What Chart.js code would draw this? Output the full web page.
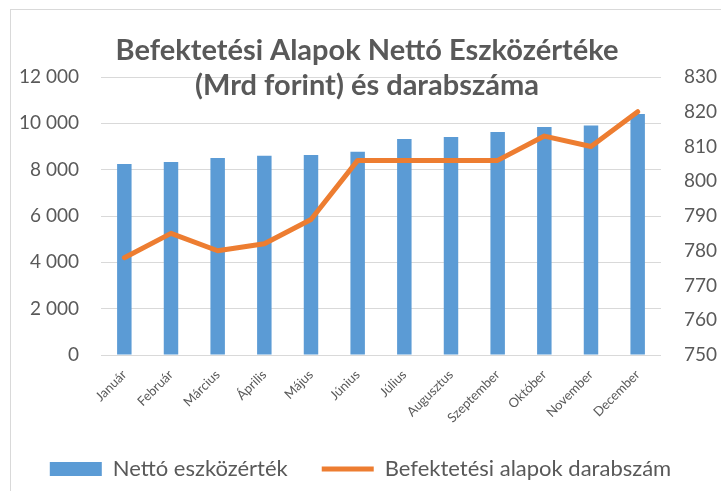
<!DOCTYPE html>
<html>
<head>
<meta charset="utf-8">
<script src="https://cdn.jsdelivr.net/npm/chart.js@4"></script>
<style>
  html, body { margin: 0; padding: 0; background: #fff; }
  #wrap { width: 721px; height: 491px; position: relative; }
</style>
</head>
<body>
<div id="wrap"><canvas id="alapokChart"></canvas></div>
<script>
// Adatok
const honapok = ['Január', 'Február', 'Március', 'Április', 'Május', 'Június',
    'Július', 'Augusztus', 'Szeptember', 'Október', 'November', 'December'];
const nettoEszkozertek = [8250, 8330, 8500, 8600, 8630, 8775, 9325, 9410, 9625, 9840, 9910, 10400];
const alapokDarab = [778, 785, 780, 782, 789, 806, 806, 806, 806, 813, 810, 820];
const cimSorok = ['Befektetési Alapok Nettó Eszközértéke', '(Mrd forint) és darabszáma'];
const szurke = '#595959';
const betu = "Lato, 'Open Sans', sans-serif";

// Cím és keret rajzolása
const cimPlugin = {
    id: 'cim',
    beforeDraw(chart) {
        const c = chart.ctx;
        c.save();
        c.strokeStyle = '#d9d9d9';
        c.lineWidth = 1;
        c.strokeRect(10.5, 9.5, 730, 500);
        c.restore();
    },
    afterDraw(chart) {
        const c = chart.ctx;
        c.save();
        c.fillStyle = szurke;
        c.font = 'bold 29px ' + betu;
        c.textAlign = 'center';
        c.textBaseline = 'alphabetic';
        c.fillText(cimSorok[0], 367, 60);
        c.fillText(cimSorok[1], 367, 95);
        c.restore();
    }
};

const ctx = document.getElementById('alapokChart').getContext('2d');

new Chart(ctx, {
    type: 'bar',
    data: {
        labels: honapok,
        datasets: [{
            type: 'bar',
            label: 'Nettó eszközérték',
            data: nettoEszkozertek,
            backgroundColor: '#5b9bd5',
            borderWidth: 0,
            categoryPercentage: 1,
            barPercentage: 0.31,
            yAxisID: 'y',
            pointStyle: 'rect',
            order: 1
        }, {
            type: 'line',
            label: 'Befektetési alapok darabszám',
            data: alapokDarab,
            borderColor: '#ed7d31',
            backgroundColor: '#ed7d31',
            borderWidth: 5,
            borderCapStyle: 'round',
            borderJoinStyle: 'round',
            tension: 0,
            pointRadius: 0,
            pointStyle: 'line',
            fill: false,
            yAxisID: 'y1',
            order: 0
        }]
    },
    options: {
        responsive: true,
        maintainAspectRatio: false,
        animation: false,
        layout: {
            padding: { top: 77, bottom: 1, left: 0, right: 0 }
        },
        plugins: {
            title: { display: false },
            tooltip: { enabled: false },
            legend: {
                position: 'bottom',
                labels: {
                    color: szurke,
                    font: { family: betu, size: 22 },
                    usePointStyle: true,
                    pointStyleWidth: 52,
                    boxHeight: 14,
                    padding: 34,
                    sort: (a, b) => a.datasetIndex - b.datasetIndex
                }
            }
        },
        scales: {
            x: {
                grid: { display: false },
                border: { display: false },
                ticks: {
                    color: szurke,
                    font: { family: betu, size: 13 },
                    maxRotation: 45,
                    minRotation: 45,
                    autoSkip: false,
                    padding: 4
                },
                afterFit(scale) { scale.height = 69; }
            },
            y: {
                position: 'left',
                min: 0,
                max: 12000,
                grid: { color: '#d9d9d9', lineWidth: 1, drawTicks: false },
                border: { display: false },
                ticks: {
                    stepSize: 2000,
                    color: szurke,
                    font: { family: betu, size: 19 },
                    padding: 22,
                    callback: function(value) {
                        return String(value).replace(/\B(?=(\d{3})+(?!\d))/g, ' ');
                    }
                },
                afterFit(scale) { scale.width = 101; }
            },
            y1: {
                position: 'right',
                min: 750,
                max: 830,
                grid: { display: false, drawTicks: false },
                border: { display: false },
                ticks: {
                    stepSize: 10,
                    color: szurke,
                    font: { family: betu, size: 19 },
                    padding: 23
                },
                afterFit(scale) { scale.width = 60; }
            }
        }
    },
    plugins: [cimPlugin]
});
</script>
</body>
</html>
